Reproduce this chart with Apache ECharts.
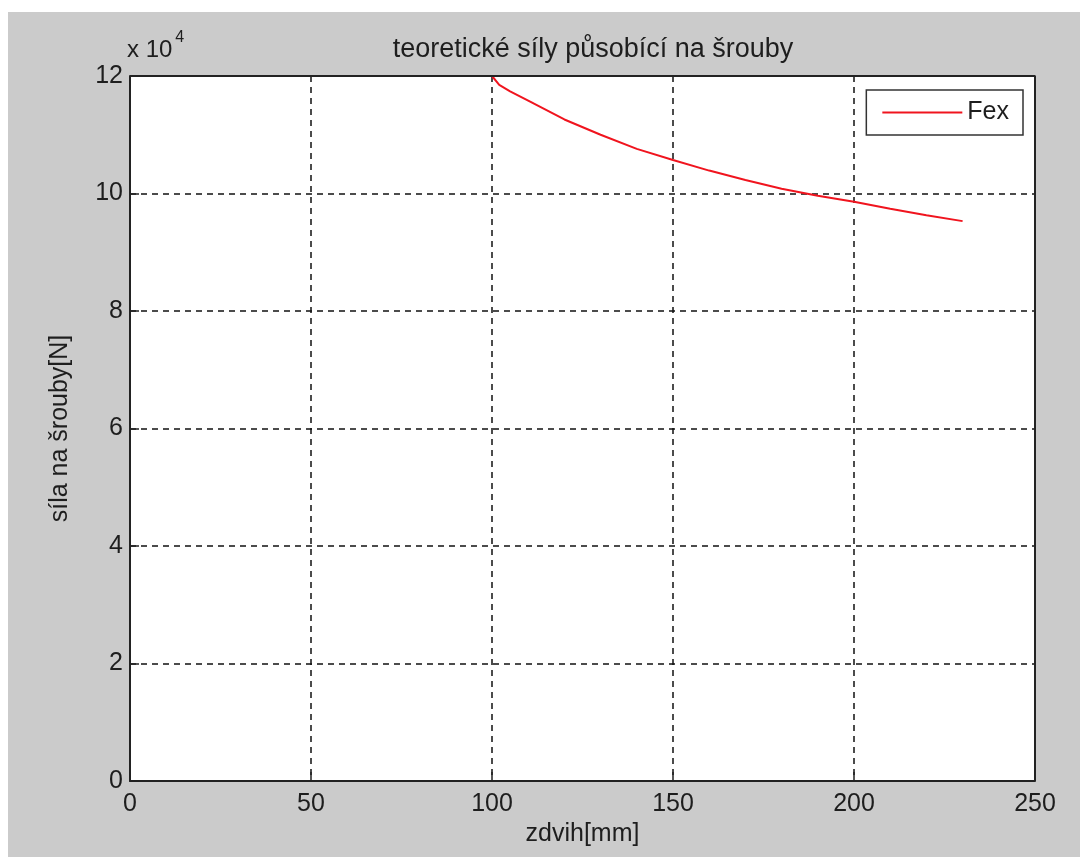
<!DOCTYPE html>
<html>
<head>
<meta charset="utf-8">
<script src="https://cdn.jsdelivr.net/npm/echarts@6/dist/echarts.min.js"></script>
<style>
html,body{margin:0;padding:0;background:#ffffff;}
#chart{width:1080px;height:857px;}
</style>
</head>
<body>
<div id="chart"></div>
<script>
// Data (force in N, stroke in mm)
const xValues = [100, 102, 105, 110, 120, 130, 140, 150, 160, 170, 180, 190, 200, 210, 220, 230];
const fexValues = [120000, 118500, 117400, 115800, 112600, 110000, 107600, 105700, 103900, 102300, 100800, 99600, 98600, 97400, 96300, 95300];
const xTicks = [0, 50, 100, 150, 200, 250];
const yTickLabels = ['0', '2', '4', '6', '8', '10', '12'];
const seriesName = 'Fex';
const titleText = 'teoretické síly působící na šrouby';
const xName = 'zdvih[mm]';
const yName = 'síla na šrouby[N]';

const FONT = 'Liberation Sans, Arial, sans-serif';
const TXT = '#1e1e1e';
const chart = echarts.init(document.getElementById('chart'));
const data = xValues.map((x, i) => [x, fexValues[i]]);

const option = {
  backgroundColor: '#ffffff',
  animation: false,
  graphic: [
    { type: 'rect', z: -10, silent: true, shape: { x: 8, y: 12, width: 1072, height: 845 }, style: { fill: '#cbcbcb' } },
    { type: 'text', left: 127, top: 30, z: 10, style: {
        text: '{a|x 10}{b|4}',
        rich: { a: { fontSize: 24, fill: TXT, fontFamily: FONT, verticalAlign: 'bottom' },
                b: { fontSize: 16, fill: TXT, fontFamily: FONT, verticalAlign: 'top', padding: [0, 0, 16, 3] } } } }
  ],
  title: {
    text: titleText, left: 588, top: 31, textAlign: 'center',
    textStyle: { fontFamily: FONT, fontSize: 27, fontWeight: 'normal', color: TXT }
  },
  legend: {
    right: 57, top: 90, itemWidth: 80, itemHeight: 2, itemGap: 11,
    padding: [10, 14, 10, 16],
    backgroundColor: '#ffffff', borderColor: '#333333', borderWidth: 1.5, borderRadius: 0,
    textStyle: { fontFamily: FONT, fontSize: 25, color: TXT, padding: [0, 0, 0, 0] },
    data: [{ name: seriesName, icon: 'rect' }]
  },
  grid: { left: 130, right: 45, top: 76, bottom: 76, outerBoundsMode: 'none', containLabel: false,
          show: true, backgroundColor: '#ffffff', borderColor: '#222', borderWidth: 0 },
  xAxis: {
    type: 'value', min: 0, max: 250, interval: 50,
    name: xName, nameLocation: 'middle', nameGap: 39,
    nameTextStyle: { fontFamily: FONT, fontSize: 25, color: TXT },
    axisLine: { show: true, onZero: false, lineStyle: { color: '#222', width: 2 } },
    axisTick: { show: true, inside: true, length: 9, lineStyle: { color: '#222', width: 1.5 } },
    axisLabel: { fontFamily: FONT, fontSize: 25, color: TXT, margin: 11 },
    splitLine: { show: true, lineStyle: { color: '#111', type: [6, 5], width: 1.5 } }
  },
  yAxis: {
    type: 'value', min: 0, max: 120000, interval: 20000,
    name: yName, nameLocation: 'middle', nameGap: 57, nameRotate: 90,
    nameTextStyle: { fontFamily: FONT, fontSize: 25, color: TXT },
    axisLine: { show: true, onZero: false, lineStyle: { color: '#222', width: 2 } },
    axisTick: { show: true, inside: true, length: 9, lineStyle: { color: '#222', width: 1.5 } },
    axisLabel: { fontFamily: FONT, fontSize: 25, color: TXT, margin: 7,
      formatter: v => yTickLabels[Math.round(v / 20000)] },
    splitLine: { show: true, lineStyle: { color: '#111', type: [6, 5], width: 1.5 } }
  },
  series: [
    { name: seriesName, type: 'line', data: data, showSymbol: false, smooth: false,
      lineStyle: { color: '#f0141e', width: 2 }, itemStyle: { color: '#f0141e' } },
    // box: top and right edges
    { type: 'line', silent: true, showSymbol: false, data: [[0, 120000], [250, 120000], [250, 0]],
      lineStyle: { color: '#222', width: 2 }, z: 5, tooltip: { show: false } }
  ]
};
chart.setOption(option);
</script>
</body>
</html>
